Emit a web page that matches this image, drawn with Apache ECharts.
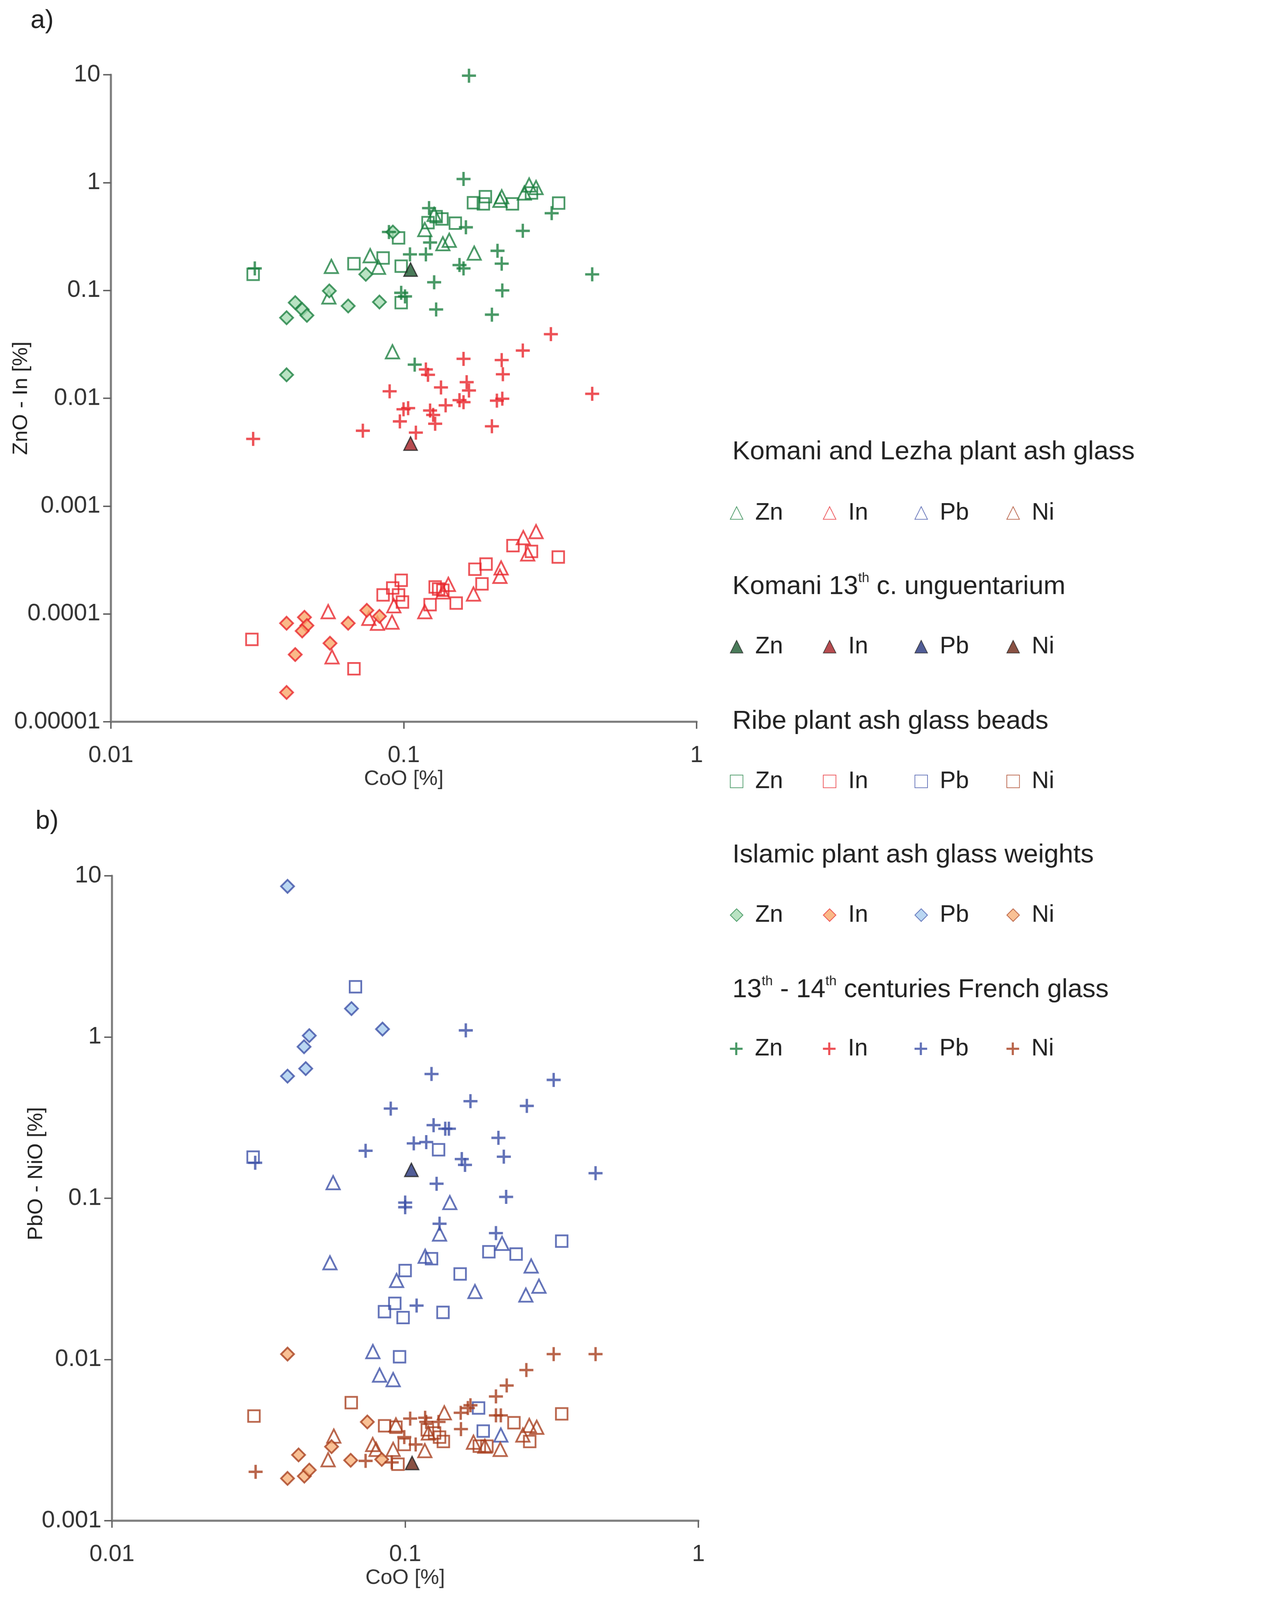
<!DOCTYPE html>
<html>
<head>
<meta charset="utf-8">
<script src="https://cdn.jsdelivr.net/npm/echarts@6/dist/echarts.min.js"></script>
<style>
  html, body { margin: 0; padding: 0; background: #fff; overflow: hidden; }
  #main { width: 3284px; height: 4560px; transform-origin: 0 0; }
</style>
</head>
<body>
<div id="main"></div>
<script>
// tick labels
var xTicks = ['0.01', '0.1', '1'];
var yTicksA = ['0.00001', '0.0001', '0.001', '0.01', '0.1', '1', '10'];
var yTicksB = ['0.001', '0.01', '0.1', '1', '10'];

// legend groups and elements
var groups = ['Komani and Lezha plant ash glass', 'Komani 13th c. unguentarium',
  'Ribe plant ash glass beads', 'Islamic plant ash glass weights', '13th - 14th centuries French glass'];
var elements = ['Zn', 'In', 'Pb', 'Ni'];

// panel a: CoO vs ZnO / In
var komaniZn = [[0.0566,0.167],[0.0555,0.087],[0.0768,0.21],[0.082,0.164],[0.118,0.367],[0.127,0.507],[0.136,0.271],[0.143,0.292],[0.174,0.222],[0.213,0.685],[0.216,0.74],[0.258,0.80],[0.268,0.95],[0.283,0.90],[0.0915,0.027]];
var komaniIn = [[0.0552,1.05e-4],[0.0569,4.0e-5],[0.076,9.1e-5],[0.0813,8.2e-5],[0.0912,8.4e-5],[0.0925,1.19e-4],[0.118,1.05e-4],[0.136,1.6e-4],[0.142,1.88e-4],[0.173,1.53e-4],[0.215,2.67e-4],[0.213,2.23e-4],[0.256,5.1e-4],[0.283,5.8e-4],[0.265,3.6e-4]];
var unguZn = [[0.1055,0.156]];
var unguIn = [[0.1055,0.0038]];
var ribeZn = [[0.0306,0.141],[0.0676,0.177],[0.085,0.200],[0.098,0.168],[0.098,0.077],[0.096,0.307],[0.121,0.425],[0.129,0.483],[0.135,0.46],[0.150,0.42],[0.173,0.65],[0.187,0.635],[0.19,0.74],[0.235,0.635],[0.273,0.80],[0.338,0.645]];
var ribeIn = [[0.0303,5.8e-5],[0.0676,3.1e-5],[0.085,1.5e-4],[0.0917,1.74e-4],[0.098,2.05e-4],[0.096,1.5e-4],[0.099,1.29e-4],[0.123,1.22e-4],[0.128,1.78e-4],[0.1315,1.7e-4],[0.136,1.66e-4],[0.151,1.26e-4],[0.175,2.6e-4],[0.191,2.9e-4],[0.185,1.9e-4],[0.236,4.3e-4],[0.273,3.8e-4],[0.337,3.37e-4]];
var islamicZn = [[0.0398,0.0558],[0.0426,0.077],[0.045,0.0665],[0.0467,0.0587],[0.0557,0.099],[0.0646,0.0717],[0.0742,0.141],[0.0826,0.078],[0.0918,0.348],[0.0398,0.0165]];
var islamicIn = [[0.0398,8.2e-5],[0.0458,9.3e-5],[0.0467,7.8e-5],[0.045,6.95e-5],[0.0426,4.2e-5],[0.056,5.35e-5],[0.0646,8.2e-5],[0.0748,1.08e-4],[0.0826,9.5e-5],[0.0398,1.87e-5]];
var frenchZn = [[0.167,9.8],[0.160,1.08],[0.122,0.58],[0.32,0.52],[0.163,0.385],[0.255,0.357],[0.089,0.348],[0.123,0.278],[0.105,0.216],[0.119,0.216],[0.209,0.233],[0.216,0.177],[0.155,0.172],[0.160,0.16],[0.44,0.141],[0.127,0.119],[0.217,0.100],[0.129,0.0666],[0.200,0.0596],[0.031,0.16],[0.098,0.095],[0.101,0.088],[0.109,0.0205]];
var frenchIn = [[0.318,0.0393],[0.255,0.0277],[0.160,0.0232],[0.216,0.0226],[0.218,0.0167],[0.119,0.0185],[0.121,0.0165],[0.0895,0.0116],[0.134,0.0126],[0.164,0.0141],[0.167,0.0118],[0.155,0.0096],[0.160,0.0092],[0.208,0.0095],[0.217,0.0099],[0.44,0.011],[0.139,0.0086],[0.0998,0.0079],[0.1035,0.0081],[0.123,0.0077],[0.126,0.0070],[0.128,0.0058],[0.097,0.0061],[0.110,0.0048],[0.0725,0.0050],[0.200,0.0055],[0.0306,0.0042]];

// panel b: CoO vs PbO / NiO
var komaniPb = [[0.0568,0.125],[0.142,0.094],[0.131,0.06],[0.214,0.0525],[0.117,0.0437],[0.0554,0.0398],[0.0935,0.0309],[0.269,0.038],[0.173,0.0264],[0.286,0.0285],[0.258,0.0251],[0.0776,0.0112],[0.0818,0.008],[0.091,0.0075],[0.212,0.0034]];
var komaniNi = [[0.0571,0.00335],[0.0546,0.00239],[0.0775,0.00297],[0.0796,0.00277],[0.091,0.00277],[0.093,0.00393],[0.1167,0.00272],[0.136,0.00467],[0.171,0.00307],[0.187,0.0029],[0.211,0.00277],[0.252,0.0034],[0.265,0.0039],[0.281,0.0038],[0.12,0.0035]];
var unguPb = [[0.105,0.150]];
var unguNi = [[0.1056,0.00228]];
var ribePb = [[0.0677,2.05],[0.0303,0.18],[0.130,0.20],[0.342,0.0542],[0.193,0.0466],[0.239,0.0451],[0.123,0.0422],[0.100,0.0356],[0.154,0.0339],[0.085,0.0198],[0.0922,0.0223],[0.0984,0.0182],[0.1346,0.0196],[0.0957,0.0104],[0.178,0.005],[0.1846,0.0036]];
var ribeNi = [[0.0305,0.00446],[0.0655,0.0054],[0.0851,0.00388],[0.0945,0.00224],[0.0993,0.00297],[0.119,0.00366],[0.126,0.0035],[0.135,0.0031],[0.131,0.0033],[0.179,0.0029],[0.19,0.0029],[0.235,0.00405],[0.342,0.0046],[0.266,0.0031],[0.093,0.0038]];
var islamicPb = [[0.0397,8.6],[0.0656,1.5],[0.0837,1.12],[0.0471,1.02],[0.0452,0.87],[0.0458,0.637],[0.0397,0.572]];
var islamicNi = [[0.0397,0.0108],[0.0743,0.0041],[0.0433,0.00256],[0.0397,0.00183],[0.0453,0.00189],[0.0471,0.00206],[0.0561,0.00288],[0.0652,0.00237],[0.0832,0.0024]];
var frenchPb = [[0.161,1.10],[0.123,0.59],[0.321,0.542],[0.167,0.40],[0.26,0.374],[0.0893,0.36],[0.125,0.284],[0.137,0.27],[0.141,0.27],[0.208,0.237],[0.107,0.219],[0.118,0.223],[0.0733,0.197],[0.0308,0.166],[0.217,0.181],[0.156,0.175],[0.160,0.161],[0.446,0.143],[0.128,0.123],[0.221,0.102],[0.100,0.094],[0.100,0.088],[0.131,0.0695],[0.204,0.0608],[0.1094,0.0216]];
var frenchNi = [[0.321,0.0108],[0.446,0.0108],[0.259,0.0086],[0.222,0.0069],[0.204,0.0059],[0.167,0.0052],[0.1636,0.005],[0.1547,0.00467],[0.155,0.0037],[0.204,0.0045],[0.212,0.0045],[0.117,0.00435],[0.104,0.0043],[0.0309,0.00201],[0.0733,0.00235],[0.0993,0.0033],[0.1086,0.00297],[0.118,0.0041],[0.13,0.0041],[0.09,0.0023]];

var FONT = '"Liberation Sans", Arial, sans-serif';
var colors = { Zn: '#1b8040', In: '#e8252c', Pb: '#3b4fa6', Ni: '#a83e1e' };
var tints = { Zn: '#a8dcb4', In: '#f9a86a', Pb: '#a9cdef', Ni: '#f7b27a' };
var darks = { Zn: '#1d5a31', In: '#a51f24', Pb: '#26357d', Ni: '#6b2514' };
var PLUS = 'path://M0,4.15H10V5.85H0Z M4.15,0H5.85V10H4.15Z';

function mk(g, el, grid, data) {
  var s = {
    name: groups[g] + '|' + el,
    type: 'scatter',
    xAxisIndex: grid, yAxisIndex: grid,
    data: data,
    symbolSize: 32,
    itemStyle: {},
    emphasis: { disabled: true }
  };
  var c = colors[el];
  if (g === 0) { s.symbol = 'triangle'; s.symbolSize = 38; s.itemStyle = { color: 'rgba(255,255,255,0)', borderColor: c, borderWidth: 5 }; }
  if (g === 1) { s.symbol = 'triangle'; s.symbolSize = 38; s.itemStyle = { color: darks[el], borderColor: '#222', borderWidth: 3.5 }; s.z = 5; }
  if (g === 2) { s.symbol = 'rect'; s.symbolSize = 33; s.itemStyle = { color: 'rgba(255,255,255,0)', borderColor: c, borderWidth: 5 }; }
  if (g === 3) { s.symbol = 'diamond'; s.symbolSize = 37; s.itemStyle = { color: tints[el], borderColor: c, borderWidth: 5 }; }
  if (g === 4) { s.symbol = PLUS; s.symbolSize = 40; s.itemStyle = { color: c, borderWidth: 0 }; }
  return s;
}

var series = [
  mk(0, 'Zn', 0, komaniZn), mk(0, 'In', 0, komaniIn), mk(0, 'Pb', 1, komaniPb), mk(0, 'Ni', 1, komaniNi),
  mk(2, 'Zn', 0, ribeZn), mk(2, 'In', 0, ribeIn), mk(2, 'Pb', 1, ribePb), mk(2, 'Ni', 1, ribeNi),
  mk(3, 'Zn', 0, islamicZn), mk(3, 'In', 0, islamicIn), mk(3, 'Pb', 1, islamicPb), mk(3, 'Ni', 1, islamicNi),
  mk(4, 'Zn', 0, frenchZn), mk(4, 'In', 0, frenchIn), mk(4, 'Pb', 1, frenchPb), mk(4, 'Ni', 1, frenchNi),
  mk(1, 'Zn', 0, unguZn), mk(1, 'In', 0, unguIn), mk(1, 'Pb', 1, unguPb), mk(1, 'Ni', 1, unguNi)
];

function logLabel(ticks, minExp) {
  return function (v) {
    var i = Math.round(Math.log(v) / Math.LN10) - minExp;
    return ticks[i] !== undefined ? ticks[i] : '';
  };
}

function xAxis(grid) {
  return {
    type: 'log', logBase: 10, min: 0.01, max: 1, gridIndex: grid,
    name: 'CoO [%]', nameLocation: 'middle', nameGap: 133, nameMoveOverlap: false,
    nameTextStyle: { fontFamily: FONT, fontSize: 60, color: '#333' },
    axisLine: { lineStyle: { color: '#808080', width: 6 } },
    axisTick: { show: true, length: 20, lineStyle: { color: '#606060', width: 4 } },
    minorTick: { show: false },
    splitLine: { show: false },
    axisLabel: { fontFamily: FONT, fontSize: 66, color: '#333', margin: 64, formatter: logLabel(xTicks, -2) }
  };
}

function yAxis(grid, name, min, ticks, minExp, gap, namePad) {
  return {
    type: 'log', logBase: 10, min: min, max: 10, gridIndex: grid,
    name: name, nameLocation: 'middle', nameGap: gap, nameMoveOverlap: false,
    nameTextStyle: { fontFamily: FONT, fontSize: 60, color: '#222', padding: namePad },
    axisLine: { lineStyle: { color: '#808080', width: 6 } },
    axisTick: { show: true, length: 22, lineStyle: { color: '#606060', width: 4 } },
    minorTick: { show: false },
    splitLine: { show: false },
    axisLabel: { fontFamily: FONT, fontSize: 68, color: '#333', margin: 30, formatter: logLabel(ticks, minExp) }
  };
}

// legend rows: group title and its four items
var titleY = [1288, 1672, 2056, 2437, 2821];
var itemY = [1468, 1849, 2233, 2614, 2995];
var itemX = [2098, 2363, 2624, 2886];
var titleTexts = [
  '{n|Komani and Lezha plant ash glass}',
  '{n|Komani 13}{s|th}{n| c. unguentarium}',
  '{n|Ribe plant ash glass beads}',
  '{n|Islamic plant ash glass weights}',
  '{n|13}{s|th}{n| - 14}{s|th}{n| centuries French glass}'
];
var richTitle = {
  n: { fontFamily: FONT, fontSize: 75, fontWeight: 'normal', color: '#222', lineHeight: 84 },
  s: { fontFamily: FONT, fontSize: 38, fontWeight: 'normal', color: '#222', verticalAlign: 'top', lineHeight: 84 }
};

var titles = [
  { text: 'a)', left: 82, top: 18, textStyle: { fontFamily: FONT, fontSize: 74, fontWeight: 'normal', color: '#222' } },
  { text: 'b)', left: 96, top: 2300, textStyle: { fontFamily: FONT, fontSize: 74, fontWeight: 'normal', color: '#222' } }
];
var legends = [];
groups.forEach(function (g, i) {
  titles.push({ text: titleTexts[i], left: 2087, top: titleY[i] - 42, padding: 0,
    textStyle: { fontWeight: 'normal', rich: richTitle } });
  elements.forEach(function (el, j) {
    legends.push({
      left: itemX[j] - 18, top: itemY[i] - 40, padding: 0,
      itemWidth: 36, itemHeight: 36, selectedMode: false,
      data: [g + '|' + el],
      formatter: function (name) { return name.split('|')[1]; },
      textStyle: { fontFamily: FONT, fontSize: 68, color: '#222', padding: [0, 0, 0, 30] }
    });
  });
});

var dom = document.getElementById('main');
var k = Math.min(window.innerWidth / 3284, window.innerHeight / 4560);
if (k < 0.999) dom.style.transform = 'scale(' + k + ')';

var chart = echarts.init(dom, null, { renderer: 'canvas', width: 3284, height: 4560 });
chart.setOption({
  backgroundColor: '#fff',
  animation: false,
  title: titles,
  legend: legends,
  grid: [
    { left: 316, top: 213, width: 1669, height: 1844, outerBoundsMode: 'none', containLabel: false },
    { left: 319, top: 2496, width: 1671, height: 1838, outerBoundsMode: 'none', containLabel: false }
  ],
  xAxis: [xAxis(0), xAxis(1)],
  yAxis: [
    yAxis(0, 'ZnO - In [%]', 0.00001, yTicksA, -5, 226, 0),
    yAxis(1, 'PbO - NiO [%]', 0.001, yTicksB, -3, 186, [0, 0, 0, 140])
  ],
  series: series
});
</script>
</body>
</html>
